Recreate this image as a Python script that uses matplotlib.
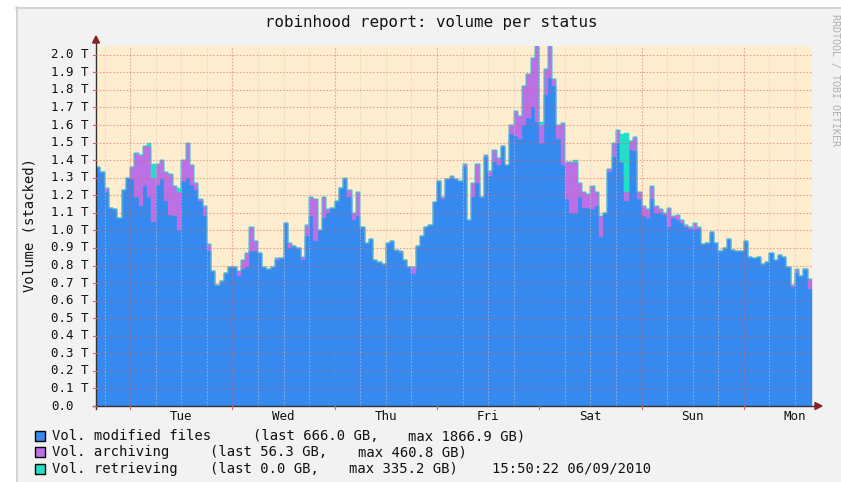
import numpy as np
import matplotlib
matplotlib.use("Agg")
import matplotlib.pyplot as plt
from matplotlib.patches import Rectangle, Polygon
from matplotlib.lines import Line2D

# ---------------- data (TB, one value per hour, Mon 16:00 -> Mon 16:00) ----------------
modified = [
    1.36, 1.33, 1.22, 1.13, 1.12, 1.07, 1.23, 1.30, 1.29, 1.19,
    1.14, 1.25, 1.19, 1.05, 1.26, 1.29, 1.17, 1.09, 1.08, 1.00,
    1.28, 1.30, 1.26, 1.23, 1.17, 1.08, 0.88, 0.77, 0.69, 0.71,
    0.76, 0.79, 0.79, 0.74, 0.78, 0.79, 0.88, 0.88, 0.87, 0.79,
    0.78, 0.79, 0.83, 0.84, 1.04, 0.90, 0.91, 0.90, 0.83, 0.97,
    1.08, 0.94, 1.00, 1.07, 1.10, 1.13, 1.17, 1.24, 1.29, 1.19,
    1.06, 1.08, 1.02, 0.93, 0.95, 0.83, 0.82, 0.81, 0.93, 0.94,
    0.88, 0.87, 0.83, 0.79, 0.75, 0.91, 0.97, 1.02, 1.03, 1.16,
    1.28, 1.18, 1.29, 1.30, 1.29, 1.28, 1.36, 1.06, 1.19, 1.27,
    1.19, 1.42, 1.31, 1.39, 1.37, 1.48, 1.37, 1.55, 1.54, 1.52,
    1.60, 1.64, 1.70, 1.62, 1.50, 1.77, 1.867, 1.82, 1.52, 1.37,
    1.18, 1.10, 1.10, 1.19, 1.13, 1.13, 1.12, 1.14, 0.96, 1.10,
    1.33, 1.42, 1.50, 1.39, 1.17, 1.46, 1.45, 1.18, 1.08, 1.07,
    1.18, 1.10, 1.10, 1.09, 1.02, 1.07, 1.06, 1.04, 1.02, 1.01,
    1.01, 1.01, 0.92, 0.93, 0.99, 0.93, 0.88, 0.90, 0.95, 0.89,
    0.88, 0.88, 0.94, 0.85, 0.84, 0.85, 0.81, 0.82, 0.87, 0.83,
    0.86, 0.85, 0.79, 0.68, 0.76, 0.74, 0.78, 0.666,
]
archiving = [
    0.00, 0.00, 0.02, 0.00, 0.00, 0.00, 0.00, 0.00, 0.07, 0.25,
    0.29, 0.23, 0.29, 0.25, 0.12, 0.11, 0.16, 0.23, 0.17, 0.22,
    0.12, 0.20, 0.11, 0.04, 0.01, 0.06, 0.04, 0.00, 0.00, 0.00,
    0.00, 0.00, 0.00, 0.03, 0.05, 0.08, 0.14, 0.06, 0.00, 0.00,
    0.00, 0.00, 0.01, 0.00, 0.00, 0.03, 0.00, 0.00, 0.02, 0.06,
    0.11, 0.24, 0.00, 0.12, 0.02, 0.00, 0.00, 0.00, 0.01, 0.04,
    0.04, 0.14, 0.00, 0.00, 0.00, 0.00, 0.00, 0.00, 0.00, 0.00,
    0.01, 0.01, 0.00, 0.00, 0.04, 0.00, 0.00, 0.00, 0.00, 0.00,
    0.00, 0.01, 0.00, 0.01, 0.00, 0.00, 0.02, 0.00, 0.08, 0.11,
    0.00, 0.01, 0.03, 0.07, 0.04, 0.00, 0.00, 0.05, 0.14, 0.13,
    0.22, 0.25, 0.28, 0.44, 0.10, 0.15, 0.20, 0.04, 0.08, 0.24,
    0.21, 0.29, 0.29, 0.08, 0.09, 0.08, 0.13, 0.08, 0.12, 0.00,
    0.02, 0.08, 0.07, 0.00, 0.05, 0.05, 0.08, 0.04, 0.06, 0.05,
    0.07, 0.04, 0.02, 0.01, 0.11, 0.01, 0.03, 0.02, 0.01, 0.01,
    0.03, 0.01, 0.00, 0.00, 0.00, 0.00, 0.00, 0.00, 0.00, 0.00,
    0.00, 0.00, 0.00, 0.00, 0.00, 0.00, 0.00, 0.00, 0.00, 0.00,
    0.00, 0.00, 0.00, 0.01, 0.02, 0.00, 0.00, 0.056,
]
retrieving = [0.0] * 168
retrieving[12] = 0.02
retrieving[13] = 0.08
retrieving[19] = 0.02
retrieving[104] = 0.02
retrieving[112] = 0.01
retrieving[123] = 0.16
retrieving[124] = 0.335

day_labels = ["Tue", "Wed", "Thu", "Fri", "Sat", "Sun", "Mon"]
day_noon_hours = [20, 44, 68, 92, 116, 140, 164]
midnight_hours = [8, 32, 56, 80, 104, 128, 152]
y_ticks = [round(0.1 * k, 1) for k in range(0, 21)]

title = "robinhood report: volume per status"
legend_names = ["Vol. modified files", "Vol. archiving", "Vol. retrieving"]
legend_last = ["(last 666.0 GB,", "(last 56.3 GB,", "(last 0.0 GB,"]
legend_max = ["max 1866.9 GB)", "max 460.8 GB)", "max 335.2 GB)"]
timestamp = "15:50:22 06/09/2010"

# ---------------- style ----------------
BLUE = "#3589ef"
PURPLE = "#bb70e6"
TEAL = "#22e0c8"
CREAM = "#ffedd0"
BACK = "#f2f2f2"
MGRID = (0.87, 0.40, 0.35)
GRID = (0.80, 0.80, 0.80)
ARROW = "#8b2222"
MONO = "DejaVu Sans Mono"

W, H = 841, 482
fig = plt.figure(figsize=(W / 100, H / 100), dpi=100)
fig.patch.set_facecolor("white")


def fx(px):
    return px / W


def fy(py):
    return 1 - py / H


# canvas background + shade border
fig.add_artist(Rectangle((fx(16), 0), 1 - fx(16), fy(7), transform=fig.transFigure,
                         facecolor=BACK, edgecolor="none", zorder=0))
fig.add_artist(Line2D([fx(16), 1], [fy(7.5), fy(7.5)], transform=fig.transFigure,
                      color="#cfcfcf", lw=1.2, zorder=1))
fig.add_artist(Line2D([fx(16.5), fx(16.5)], [0, fy(7)], transform=fig.transFigure,
                      color="#cfcfcf", lw=1.2, zorder=1))

X0, X1, Y0, YTOP = 96, 812, 406, 46
ax = fig.add_axes([fx(X0), fy(Y0), fx(X1) - fx(X0), (Y0 - YTOP) / H])
ax.set_facecolor(CREAM)
for s in ax.spines.values():
    s.set_visible(False)
ax.set_xticks([])
ax.set_yticks([])
ax.set_xlim(0, 168)
ax.set_ylim(0, 2.05)

n = len(modified)
x = np.arange(n + 1)
b = np.array(modified)
p = b + np.array(archiving)
t = p + np.array(retrieving)


def ext(a):
    return np.append(a, a[-1])


ax.fill_between(x, 0, ext(b), step="post", facecolor=BLUE, edgecolor=BLUE, lw=0.3, zorder=2)
ax.fill_between(x, ext(b), ext(p), step="post", facecolor=PURPLE, edgecolor=PURPLE, lw=0.3, zorder=2)
ax.fill_between(x, ext(p), ext(t), step="post", facecolor=TEAL, edgecolor=TEAL, lw=0.3, zorder=2)

# grid (drawn over data, rrdtool style)
for v in y_ticks[1:]:
    ax.axhline(v, color=MGRID, alpha=0.55, lw=0.8, ls=(0, (1.5, 1.5)), zorder=3)
for h in range(2, 168, 6):
    if h in midnight_hours:
        ax.axvline(h, color=MGRID, alpha=0.55, lw=0.8, ls=(0, (1.5, 1.5)), zorder=3)
    else:
        ax.axvline(h, color=GRID, alpha=0.55, lw=0.8, ls=(0, (1.5, 1.5)), zorder=3)

# axes lines + arrows
fig.add_artist(Line2D([fx(X0), fx(X0)], [fy(Y0 + 3), fy(42)], transform=fig.transFigure,
                      color="#333333", lw=1.0, zorder=5))
fig.add_artist(Line2D([fx(X0 - 3), fx(816)], [fy(Y0), fy(Y0)], transform=fig.transFigure,
                      color="#333333", lw=1.0, zorder=5))
fig.add_artist(Polygon([[fx(X0), fy(36)], [fx(X0 - 3.5), fy(43)], [fx(X0 + 3.5), fy(43)]],
                       closed=True, transform=fig.transFigure, color=ARROW, zorder=6))
fig.add_artist(Polygon([[fx(822), fy(Y0)], [fx(815), fy(Y0 - 3.5)], [fx(815), fy(Y0 + 3.5)]],
                       closed=True, transform=fig.transFigure, color=ARROW, zorder=6))

# y ticks and labels
yscale = (Y0 - YTOP) / 2.05
for v in y_ticks:
    py = Y0 - v * yscale
    fig.add_artist(Line2D([fx(X0 - 3), fx(X0)], [fy(py), fy(py)], transform=fig.transFigure,
                          color=MGRID, lw=0.8, zorder=5))
    lab = "0.0" if v == 0 else f"{v:.1f} T"
    fig.text(fx(51), fy(py), lab, ha="left", va="center", family=MONO, fontsize=9, color="#111111")

# x ticks + day labels
xscale = (X1 - X0) / 168
for h in midnight_hours:
    px = X0 + h * xscale
    fig.add_artist(Line2D([fx(px), fx(px)], [fy(Y0), fy(Y0 + 3)], transform=fig.transFigure,
                          color=MGRID, lw=0.8, zorder=5))
for h, lab in zip(day_noon_hours, day_labels):
    px = X0 + h * xscale
    fig.text(fx(px), fy(417), lab, ha="center", va="center", family=MONO, fontsize=9, color="#111111")

# title, axis label, watermark
fig.text(fx(431), fy(22), title, ha="center", va="center", family=MONO, fontsize=11.4, color="#111111")
fig.text(fx(30), fy(225), "Volume (stacked)", ha="center", va="center", rotation=90,
         family=MONO, fontsize=10, color="#111111")
fig.text(fx(835), fy(80), "RRDTOOL / TOBI OETIKER", ha="center", va="center", rotation=270,
         family=MONO, fontsize=7.2, color="#b0b0b0")

# legend (segments placed like rrdtool's pixel-aligned legend)
last_x = [253.5, 210.5, 210.5]
max_x = [407.6, 357.6, 349.3]
for i, col in enumerate([BLUE, PURPLE, TEAL]):
    cy = 436 + 16.3 * i
    fig.add_artist(Rectangle((fx(34.5), fy(cy + 5)), fx(10), 10 / H, transform=fig.transFigure,
                             facecolor=col, edgecolor="black", lw=1.0, zorder=5))
    kw = dict(ha="left", va="center", family=MONO, fontsize=10, color="#111111")
    fig.text(fx(51.5), fy(cy), legend_names[i], **kw)
    fig.text(fx(last_x[i]), fy(cy), legend_last[i], **kw)
    fig.text(fx(max_x[i]), fy(cy), legend_max[i], **kw)
    if i == 2:
        fig.text(fx(491.5), fy(cy), timestamp, **kw)

fig.savefig("out.png", dpi=100, facecolor=fig.get_facecolor())
